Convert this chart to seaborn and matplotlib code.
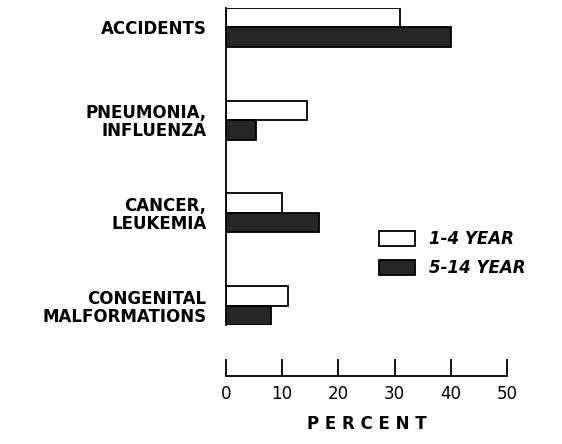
import numpy as np
import pandas as pd
import matplotlib
matplotlib.use("Agg")
import matplotlib.pyplot as plt
import seaborn as sns

## data
causes = ["ACCIDENTS", "PNEUMONIA,\nINFLUENZA", "CANCER,\nLEUKEMIA", "CONGENITAL\nMALFORMATIONS"]
age_groups = ["1-4 YEAR", "5-14 YEAR"]
pct_1_4 = [31, 14.5, 10, 11]
pct_5_14 = [40, 5.3, 16.5, 8]
x_ticks = [0, 10, 20, 30, 40, 50]

df = pd.DataFrame({
    "cause": causes * 2,
    "age": [age_groups[0]] * len(causes) + [age_groups[1]] * len(causes),
    "percent": pct_1_4 + pct_5_14,
})

sns.set_style("white")
plt.rcParams["font.family"] = ["DejaVu Sans"]
plt.rcParams["text.color"] = "black"
plt.rcParams["xtick.color"] = "black"
plt.rcParams["ytick.color"] = "black"
plt.rcParams["axes.labelcolor"] = "black"
plt.rcParams["axes.edgecolor"] = "black"

fig = plt.figure(figsize=(5.62, 4.44), dpi=100)
ax = fig.add_axes([0.402, 0.268, 0.5, 0.714])

sns.barplot(data=df, x="percent", y="cause", hue="age", order=causes,
            hue_order=age_groups, palette={"1-4 YEAR": "white", "5-14 YEAR": "#262626"},
            orient="h", width=0.42, edgecolor="black", linewidth=1.3,
            saturation=1, errorbar=None, ax=ax)

ax.set_xlim(0, 50)
ax.set_ylim(3.21, -0.21)

# only a left line and a detached scale at the bottom
ax.spines["top"].set_visible(False)
ax.spines["right"].set_visible(False)
ax.spines["left"].set_linewidth(1.3)
ax.spines["bottom"].set_position(("outward", 37))
ax.spines["bottom"].set_linewidth(1.3)
ax.spines["bottom"].set_bounds(0, 50)
ax.set_xticks(x_ticks)
ax.set_xticklabels([str(t) for t in x_ticks], fontsize=12)
ax.tick_params(axis="x", direction="in", length=12, width=1.3, pad=6, bottom=True)
ax.set_xlabel("P E R C E N T", fontsize=12, fontweight="bold", labelpad=9)

ax.set_ylabel("")
ax.tick_params(axis="y", length=0, pad=14)
for lab in ax.get_yticklabels():
    lab.set_fontsize(12)
    lab.set_fontweight("bold")
    lab.set_linespacing(1.0)
    lab.set_horizontalalignment("right")
    lab.set_multialignment("right")

ax.legend(loc="center left", bbox_to_anchor=(0.49, 0.225), frameon=False,
          handlelength=2.2, handleheight=1.0, handletextpad=0.8, labelspacing=0.65,
          prop={"size": 12, "style": "italic", "weight": "bold"})

fig.savefig("out.png", dpi=100)
